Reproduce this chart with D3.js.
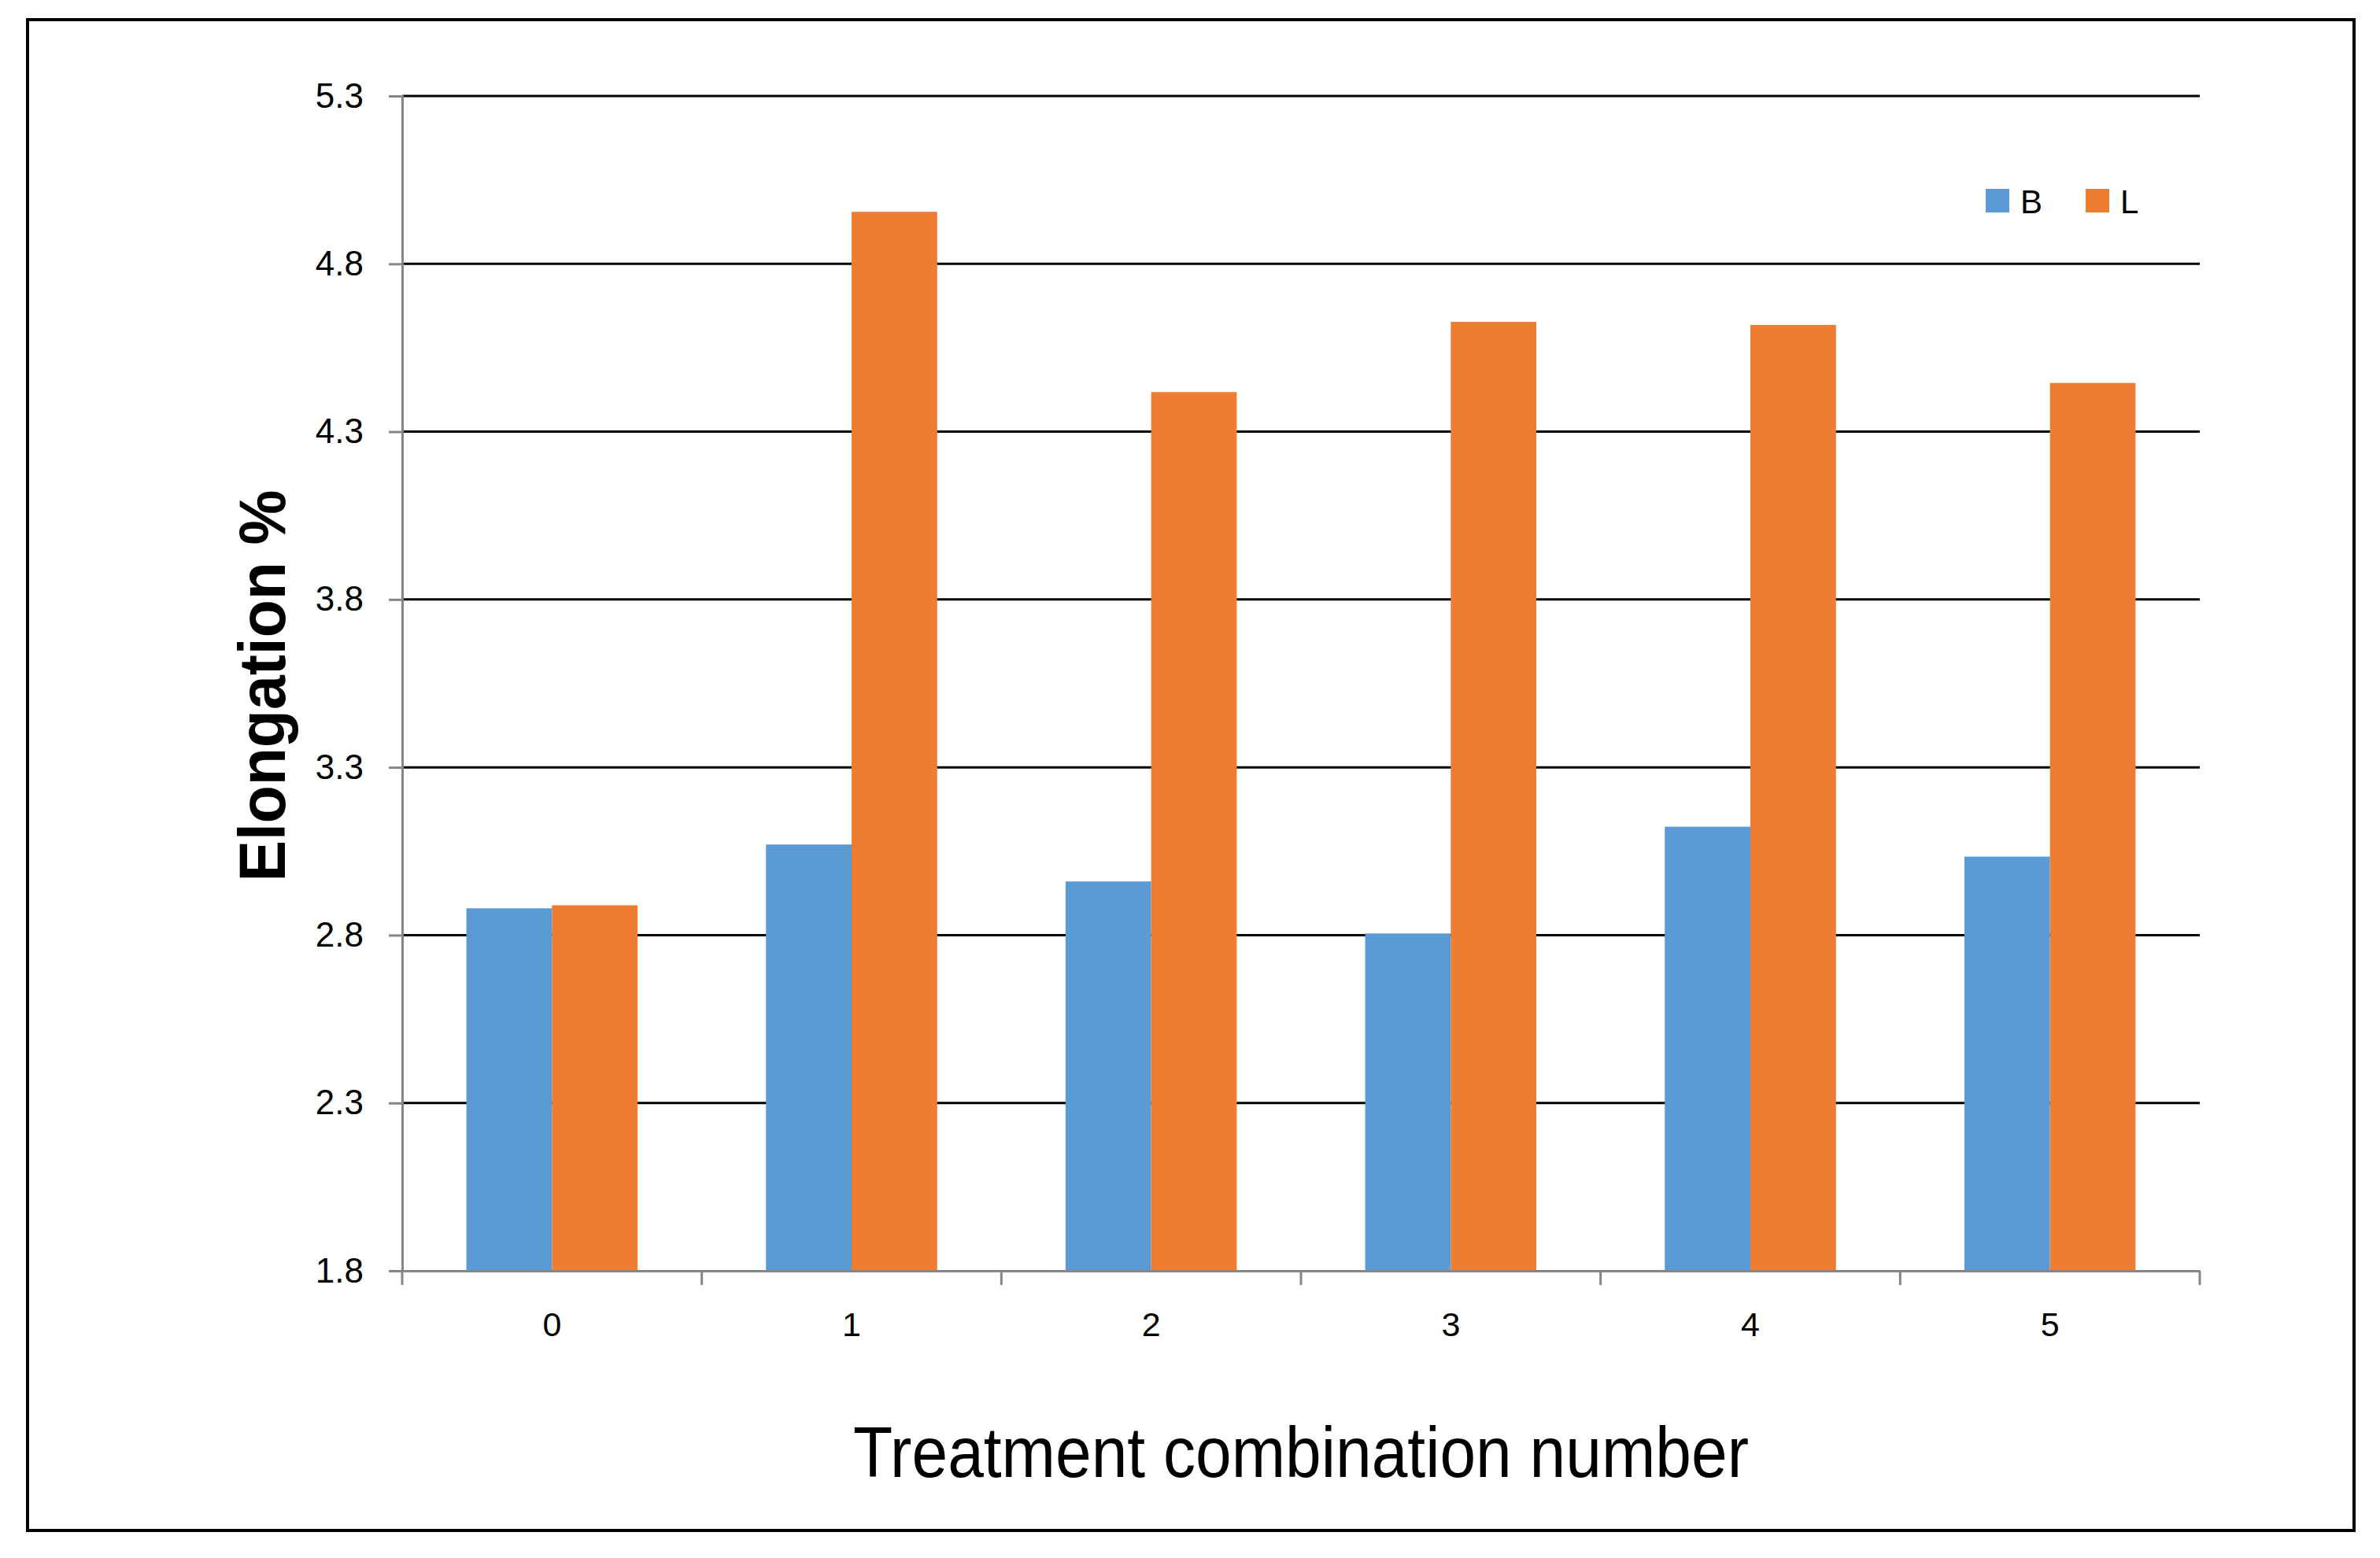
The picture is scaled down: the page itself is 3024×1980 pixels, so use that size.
<!DOCTYPE html>
<html>
<head>
<meta charset="utf-8">
<script src="https://cdn.jsdelivr.net/npm/d3@7"></script>
<style>
  html, body { margin: 0; padding: 0; background: #ffffff; }
  svg { display: block; }
</style>
</head>
<body>
<svg id="chart" width="3024" height="1980"></svg>
<script>
// ---- data ----
const categories = ["0", "1", "2", "3", "4", "5"];
const seriesNames = ["B", "L"];
const valuesB = [2.88, 3.07, 2.96, 2.805, 3.123, 3.034];
const valuesL = [2.889, 4.955, 4.418, 4.627, 4.618, 4.445];
const yTickValues = [1.8, 2.3, 2.8, 3.3, 3.8, 4.3, 4.8, 5.3];
const seriesColors = ["#5B9BD5", "#ED7D31"];
const xTitle = "Treatment combination number";
const yTitle = "Elongation %";

// ---- layout ----
const W = 3024, H = 1980;
const plot = { left: 511, right: 2795, top: 122, bottom: 1615 };
const svg = d3.select("#chart");
svg.append("rect").attr("x", 0).attr("y", 0).attr("width", W).attr("height", H).attr("fill", "#fff");

// outer border
svg.append("rect")
  .attr("x", 35).attr("y", 25).attr("width", 2956).attr("height", 1920)
  .attr("fill", "none").attr("stroke", "#000").attr("stroke-width", 4);

const x0 = d3.scaleBand().domain(categories).range([plot.left, plot.right]).paddingInner(0).paddingOuter(0);
const x1 = d3.scaleBand().domain(seriesNames).range([0, x0.bandwidth()]).paddingInner(0).paddingOuter(0.75);
const y = d3.scaleLinear().domain([1.8, 5.3]).range([plot.bottom, plot.top]);

const fontFamily = "'Liberation Sans', Arial, sans-serif";

// gridlines
svg.append("g").selectAll("line").data(yTickValues.filter(v => v > 1.8)).join("line")
  .attr("x1", plot.left).attr("x2", plot.right)
  .attr("y1", d => y(d)).attr("y2", d => y(d))
  .attr("stroke", "#000").attr("stroke-width", 3);

// bars
const table = categories.map((c, i) => ({ cat: c, vals: [
  { s: "B", v: valuesB[i], color: seriesColors[0] },
  { s: "L", v: valuesL[i], color: seriesColors[1] }
]}));
svg.append("g").selectAll("g").data(table).join("g")
  .attr("transform", d => `translate(${x0(d.cat)},0)`)
  .selectAll("rect").data(d => d.vals).join("rect")
  .attr("x", d => x1(d.s))
  .attr("width", x1.bandwidth())
  .attr("y", d => y(d.v))
  .attr("height", d => y(1.8) - y(d.v))
  .attr("fill", d => d.color);

// y axis
const yAxis = d3.axisLeft(y).tickValues(yTickValues).tickFormat(d3.format(".1f")).tickSize(17).tickPadding(14);
const gy = svg.append("g").attr("transform", `translate(${plot.left},0)`).call(yAxis);
gy.select(".domain").attr("stroke", "#868686").attr("stroke-width", 3);
gy.selectAll(".tick line").attr("stroke", "#868686").attr("stroke-width", 3);
gy.selectAll(".tick text").attr("font-family", fontFamily).attr("font-size", 44).attr("fill", "#000").attr("dx", -18);

// x axis
const xAxis = d3.axisBottom(x0).tickSize(0).tickPadding(52);
const gx = svg.append("g").attr("transform", `translate(0,${plot.bottom})`).call(xAxis);
gx.select(".domain").attr("stroke", "#868686").attr("stroke-width", 3);
gx.selectAll(".tick text").attr("font-family", fontFamily).attr("font-size", 43).attr("fill", "#000");
// category boundary ticks
const boundaries = categories.map(c => x0(c)).concat([x0(categories[categories.length - 1]) + x0.bandwidth()]);
gx.append("g").selectAll("line").data(boundaries).join("line")
  .attr("x1", d => d).attr("x2", d => d).attr("y1", 0).attr("y2", 18)
  .attr("stroke", "#868686").attr("stroke-width", 3);

// axis titles
svg.append("text")
  .attr("x", (plot.left + plot.right) / 2).attr("y", 1877)
  .attr("text-anchor", "middle")
  .attr("font-family", fontFamily).attr("font-size", 91)
  .attr("textLength", 1138).attr("lengthAdjust", "spacingAndGlyphs")
  .attr("fill", "#000").text(xTitle);

svg.append("text")
  .attr("transform", `translate(362,${(plot.top + plot.bottom) / 2 + 3}) rotate(-90)`)
  .attr("text-anchor", "middle")
  .attr("font-family", fontFamily).attr("font-size", 84).attr("font-weight", "bold")
  .attr("textLength", 498).attr("lengthAdjust", "spacingAndGlyphs")
  .attr("fill", "#000").text(yTitle);

// legend
const legendItems = [
  { name: seriesNames[0], color: seriesColors[0], x: 2523 },
  { name: seriesNames[1], color: seriesColors[1], x: 2650 }
];
const lg = svg.append("g").selectAll("g").data(legendItems).join("g")
  .attr("transform", d => `translate(${d.x},240)`);
lg.append("rect").attr("x", 0).attr("y", 0).attr("width", 30).attr("height", 30).attr("fill", d => d.color);
lg.append("text").attr("x", 44).attr("y", 31)
  .attr("font-family", fontFamily).attr("font-size", 42).attr("fill", "#000")
  .text(d => d.name);
</script>
</body>
</html>
